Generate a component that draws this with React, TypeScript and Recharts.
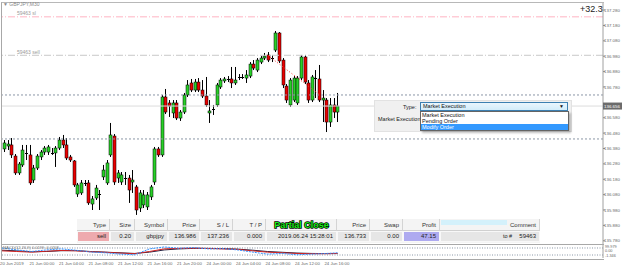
import React from 'react';
import { ComposedChart, Bar, XAxis, YAxis, ReferenceLine, Line } from 'recharts';

// ---- data (GBPJPY M30, 20 Jun 20:00 .. 24 Jun 17:30) ----
const opens = [136.377,136.396,136.403,136.331,136.221,136.273,136.351,136.338,136.175,136.253,
136.325,136.357,136.357,136.351,136.351,136.383,136.435,136.403,136.325,136.299,
136.084,136.091,136.156,136.156,136.019,136.058,136.078,136.195,136.156,136.338,
136.461,136.188,136.162,136.188,136.188,136.162,136.130,135.993,136.013,136.000,
136.065,136.162,136.377,136.338,136.715,136.676,136.611,136.676,136.578,136.617,
136.728,136.806,136.760,136.812,136.760,136.721,136.611,136.637,136.663,136.780,
136.819,136.832,136.832,136.806,136.845,136.843,136.838,136.851,136.929,136.890,
136.942,136.968,136.988,136.968,137.020,137.131,136.955,136.786,136.663,136.695,
136.676,136.838,136.975,136.806,136.695,136.838,136.832,136.695,136.695,136.552,
136.663,136.617];
const highs = [136.435,136.435,136.448,136.344,136.292,136.403,136.403,136.403,136.273,136.344,
136.370,136.396,136.403,136.383,136.396,136.455,136.468,136.448,136.338,136.305,
136.156,136.175,136.175,136.175,136.071,136.143,136.110,136.273,136.305,136.546,
136.474,136.240,136.227,136.227,136.208,136.240,136.143,136.110,136.110,136.097,
136.143,136.390,136.390,136.728,136.767,136.695,136.695,136.695,136.630,136.741,
136.825,136.832,136.832,136.838,136.825,136.845,136.695,136.663,136.806,136.838,
136.845,136.851,136.910,136.910,136.864,136.864,136.890,136.942,136.955,136.968,
136.981,137.001,137.007,136.988,137.144,137.137,136.968,136.799,136.838,136.851,
136.851,136.988,136.988,136.825,136.858,136.890,136.923,136.760,136.708,136.708,
136.708,136.741];
const lows = [136.357,136.370,136.318,136.208,136.208,136.260,136.305,136.143,136.156,136.240,
136.305,136.338,136.338,136.338,136.260,136.370,136.383,136.305,136.292,136.130,
136.065,136.078,136.136,136.013,135.980,136.045,135.980,136.175,136.143,136.325,
136.143,136.156,136.143,136.143,136.026,136.091,135.948,135.967,135.993,135.980,
136.045,136.143,136.325,136.325,136.604,136.585,136.578,136.565,136.559,136.604,
136.715,136.747,136.747,136.747,136.708,136.650,136.546,136.598,136.650,136.767,
136.806,136.812,136.773,136.793,136.825,136.832,136.806,136.838,136.890,136.877,
136.929,136.955,136.942,136.942,137.007,136.936,136.773,136.676,136.650,136.682,
136.663,136.825,136.799,136.676,136.682,136.708,136.682,136.552,136.487,136.520,
136.578,136.552];
const closes = [136.416,136.409,136.338,136.221,136.279,136.370,136.349,136.156,136.253,136.331,
136.357,136.383,136.390,136.349,136.383,136.435,136.403,136.318,136.305,136.143,
136.143,136.156,136.153,136.026,136.052,136.123,136.084,136.240,136.286,136.468,
136.162,136.221,136.208,136.186,136.110,136.175,135.980,136.091,136.078,136.078,
136.130,136.377,136.338,136.715,136.617,136.656,136.676,136.578,136.617,136.728,
136.793,136.760,136.812,136.760,136.721,136.663,136.624,136.635,136.793,136.825,
136.832,136.830,136.806,136.825,136.843,136.845,136.858,136.929,136.903,136.955,
136.968,136.981,136.955,136.962,137.131,136.949,136.793,136.695,136.825,136.838,
136.838,136.975,136.812,136.695,136.845,136.832,136.695,136.708,136.552,136.663,
136.617,136.656];

const TOTAL_SLOTS = 164; // chart shift leaves empty space on the right
const priceTicks = [137.28,137.18,137.08,136.98,136.88,136.78,136.58,136.48,136.38,136.28,136.18,136.08,135.98,135.88,135.78];
const BID = 136.656;
const SL = 137.236;
const ENTRY = 136.986;
const CLOSE_PRICE = 136.733;
const ENTRY_BAR = 72;
const CLOSE_BAR = 86;
const dottedLevels = [136.728, 136.442];

const dateTickIdx = [0,8,16,24,32,40,48,56,64,72,80,88];
const dateLabels = ['20 Jun 2019','21 Jun 00:00','21 Jun 04:00','21 Jun 08:00','21 Jun 12:00','21 Jun 16:00','21 Jun 20:00','24 Jun 00:00','24 Jun 04:00','24 Jun 08:00','24 Jun 12:00','24 Jun 16:00'];

// sub-window indicator, sampled every 4 bars
const subIdx = [0,4,8,12,16,20,24,28,32,36,40,44,48,52,56,60,64,68,72,76,80,84,88,91];
const subBlue = [77,62,50,62,70,60,46,40,30,25,70,85,75,80,70,72,62,45,30,35,25,30,35,40];
const subRed = [55,50,45,52,58,55,48,44,38,33,50,70,74,76,73,70,66,55,45,40,35,33,33,35];
const subDark = [60,55,48,50,56,57,50,45,40,35,45,62,70,74,74,72,68,60,50,44,38,35,34,34];
const subLevels = [77, 23];
const subAxisLabels = ['99.979', '0.00', '-1.346'];

// order table
const colEdges = [77,110,135,168,200,233,266,337,370,403,440,540];
const headers = ['Type','Size','Symbol','Price','S / L','T / P','','Price','Swap','Profit','Comment'];
const rowVals = ['sell','0.20','gbpjpy','136.986','137.236','0.000','2019.06.24 15:28:01','136.733','0.00','47.15','59463'];

const dropdownItems = ['Market Execution','Pending Order','Modify Order'];

const GREEN = '#28d028';
const RED = '#e80000';
const FONT = '"Liberation Sans", Arial, sans-serif';

const rows = Array.from({ length: TOTAL_SLOTS }, (_, i) =>
  i < opens.length
    ? { i, o: opens[i], h: highs[i], l: lows[i], c: closes[i], range: [lows[i], highs[i]] }
    : { i }
);

const subRows = Array.from({ length: TOTAL_SLOTS }, (_, i) => {
  const k = subIdx.indexOf(i);
  return k >= 0 ? { i, b: subBlue[k], r: subRed[k], d: subDark[k] } : { i };
});

const Candle = (props: any) => {
  const { x, y, width, height, payload } = props;
  if (!payload || payload.o == null || !isFinite(y)) return null;
  const { o, h, l, c } = payload;
  const top = Math.min(y, y + height);
  const hgt = Math.abs(height);
  const px = (v: number) => (h === l ? top : top + ((h - v) / (h - l)) * hgt);
  const cx = Math.round(x + width / 2) + 0.5;
  const yo = px(o);
  const yc = px(c);
  const bt = Math.min(yo, yc);
  const bh = Math.max(Math.abs(yo - yc), 1);
  const doji = Math.abs(yo - yc) < 1;
  return (
    <g>
      <line x1={cx} x2={cx} y1={top} y2={top + hgt} stroke="#000" strokeWidth={1} />
      {doji ? (
        <line x1={cx - 1.5} x2={cx + 1.5} y1={Math.round(bt) + 0.5} y2={Math.round(bt) + 0.5} stroke="#000" strokeWidth={1} />
      ) : (
        <rect x={cx - 1.5} y={bt} width={3} height={bh} fill={c >= o ? GREEN : RED} stroke="#000" strokeWidth={0.5} />
      )}
    </g>
  );
};

const PriceTick = (props: any) => {
  const { x, y, payload } = props;
  const v = payload.value;
  const tx = x - 3;
  if (Math.abs(v - BID) < 1e-6) {
    return (
      <g>
        <rect x={tx - 1} y={y - 3.5} width={19} height={7} fill="#6b6b6b" />
        <text x={tx} y={y + 1.6} fontSize={4.4} fill="#fff" fontFamily={FONT}>{v.toFixed(3)}</text>
      </g>
    );
  }
  return (
    <text x={tx} y={y + 1.6} fontSize={4.4} fill="#6a6a6a" fontFamily={FONT}>{v.toFixed(3)}</text>
  );
};

const DateTick = (props: any) => {
  const { x, y, payload } = props;
  const k = dateTickIdx.indexOf(payload.value);
  if (k < 0) return null;
  return (
    <text x={x - 2} y={y - 1} fontSize={4.3} fill="#666" fontFamily={FONT}>{dateLabels[k]}</text>
  );
};

const lineLabel = (text: string) => (p: any) => {
  const vb = p.viewBox || {};
  return (
    <text x={(vb.x || 0) + 15} y={(vb.y || 0) - 1.5} fontSize={5} fill="#9a9a9a" fontFamily={FONT}>{text}</text>
  );
};

export default function App() {
  const abs = (l: number, t: number, extra: any = {}) => ({ position: 'absolute' as const, left: l, top: t, ...extra });
  return (
    <div style={{ position: 'fixed', left: 0, top: 0, width: 625, height: 268, background: '#fff', overflow: 'hidden', fontFamily: FONT }}>
      {/* frames */}
      <div style={abs(1, 2, { width: 602, height: 242, borderLeft: '1px solid #a8a8a8', borderTop: '1px solid #b8b8b8' })} />
      <div style={abs(1, 244, { width: 602, height: 14, borderLeft: '1px solid #a8a8a8', borderTop: '1px solid #a8a8a8', borderBottom: '1px solid #a8a8a8' })} />

      <div style={abs(0, 0)}>
        <ComposedChart width={625} height={244} data={rows} margin={{ top: 3, right: 0, left: 2, bottom: 0 }} barCategoryGap={0}>
          <XAxis dataKey="i" type="category" hide />
          <YAxis
            orientation="right"
            type="number"
            domain={[135.759, 137.326]}
            allowDataOverflow
            ticks={[...priceTicks, BID]}
            interval={0}
            width={22}
            tick={<PriceTick />}
            tickLine={{ stroke: '#888' }}
            tickSize={2}
            axisLine={{ stroke: '#a0a0a0' }}
          />
          <ReferenceLine y={SL} stroke="#ffb4c2" strokeDasharray="7 2 1 2" label={lineLabel('59463 sl')} />
          <ReferenceLine y={ENTRY} stroke="#c8c8c8" strokeDasharray="7 2 1 2" label={lineLabel('59463 sell')} />
          {dottedLevels.map((v) => (
            <ReferenceLine key={v} y={v} stroke="#8a96a6" strokeDasharray="2 2" />
          ))}
          <ReferenceLine y={BID} stroke="#dcdcdc" />
          <ReferenceLine
            segment={[{ x: ENTRY_BAR, y: ENTRY }, { x: CLOSE_BAR, y: CLOSE_PRICE }]}
            stroke="#ff3030"
            strokeDasharray="1 2"
          />
          <Bar dataKey="range" isAnimationActive={false} shape={<Candle />} />
        </ComposedChart>
      </div>

      <div style={abs(0, 244)}>
        <ComposedChart width={625} height={24} data={subRows} margin={{ top: 1, right: 0, left: 2, bottom: 0 }}>
          <XAxis
            dataKey="i"
            type="category"
            ticks={dateTickIdx}
            interval={0}
            height={10}
            tick={<DateTick />}
            tickLine={false}
            axisLine={false}
          />
          <YAxis orientation="right" type="number" domain={[0, 100]} width={22} tick={false} tickLine={false} axisLine={{ stroke: '#a0a0a0' }} />
          {subLevels.map((v) => (
            <ReferenceLine key={v} y={v} stroke="#8a96a6" strokeDasharray="1 1.5" />
          ))}
          <Line dataKey="d" stroke="#202040" strokeWidth={1} dot={false} connectNulls isAnimationActive={false} />
          <Line dataKey="r" stroke="#d02020" strokeWidth={1} dot={false} connectNulls isAnimationActive={false} />
          <Line dataKey="b" stroke="#3090ff" strokeWidth={1} strokeDasharray="2 1" dot={false} connectNulls isAnimationActive={false} />
        </ComposedChart>
      </div>

      {/* labels */}
      <div style={abs(3, 1, { fontSize: 5, color: '#888', whiteSpace: 'nowrap' })}>▼ GBPJPY,M30</div>
      <div style={abs(580, 4, { fontSize: 9, color: '#222', whiteSpace: 'nowrap' })}>+32.3</div>
      <div style={abs(3, 245, { fontSize: 4, color: '#777', whiteSpace: 'nowrap' })}>MACD(12,26,9) 0.0199 -0.0208</div>
      <div style={abs(605, 245, { fontSize: 3.8, color: '#666', whiteSpace: 'nowrap', lineHeight: '4.3px' })}>
        {subAxisLabels.map((t) => (<div key={t}>{t}</div>))}
      </div>

      {/* dialog */}
      <div style={abs(374, 100, { width: 198, height: 32, background: '#f0f0f0', border: '1px solid #e2e2e2', boxSizing: 'border-box' })} />
      <div style={abs(403, 104, { fontSize: 5.5, color: '#222' })}>Type:</div>
      <div style={abs(378, 116, { fontSize: 5.5, color: '#222', whiteSpace: 'nowrap' })}>Market Execution</div>
      <div style={abs(420, 102, { width: 148, height: 9, boxSizing: 'border-box', border: '1px solid #3c7fb1', background: 'linear-gradient(#eaf6fd,#d2ecfa)', fontSize: 5.5, lineHeight: '7px', paddingLeft: 2, color: '#111', whiteSpace: 'nowrap' })}>
        Market Execution
        <span style={{ position: 'absolute', right: 3, top: 0, fontSize: 5 }}>▼</span>
      </div>
      <div style={abs(420, 111, { width: 149, height: 20, boxSizing: 'border-box', border: '1px solid #646464', background: '#fff', boxShadow: '2px 2px 2px rgba(0,0,0,0.25)' })}>
        {dropdownItems.map((t, k) => (
          <div key={t} style={{ height: 6, fontSize: 5.5, lineHeight: '6px', paddingLeft: 1, whiteSpace: 'nowrap', background: k === 2 ? '#3399ff' : 'transparent', color: k === 2 ? '#fff' : '#111' }}>{t}</div>
        ))}
      </div>

      {/* order table */}
      <div style={abs(77, 219, { width: 463, height: 24, background: '#f4f4f4' })} />
      {headers.map((h, k) => (
        <div key={'h' + k} style={abs(colEdges[k], 219, { width: colEdges[k + 1] - colEdges[k], height: 12, boxSizing: 'border-box', borderRight: '1px solid #d4d4d4', borderBottom: '1px solid #d0d0d0', fontSize: 6, lineHeight: '12px', textAlign: 'right', paddingRight: 3, color: '#333', whiteSpace: 'nowrap' })}>{h}</div>
      ))}
      <div style={abs(441, 220, { width: 66, height: 5, background: '#d4f1fb' })} />
      <div style={abs(266, 218, { width: 71, textAlign: 'center', fontSize: 9, fontWeight: 'bold', color: '#19f019', WebkitTextStroke: '1.4px #000', paintOrder: 'stroke fill', whiteSpace: 'nowrap', lineHeight: '14px' })}>Partial Close</div>
      {rowVals.map((v, k) => (
        <div key={'r' + k} style={abs(colEdges[k], 231, { width: colEdges[k + 1] - colEdges[k], height: 11, boxSizing: 'border-box', border: '1px solid #f8f8f8', background: k === 0 ? '#eeaaae' : k === 9 ? '#aeaaf0' : '#e6e6e6', fontSize: 6, lineHeight: '9px', textAlign: 'right', paddingRight: 3, color: '#222', whiteSpace: 'nowrap' })}>{v}</div>
      ))}
      <div style={abs(503, 232, { fontSize: 5.5, color: '#222', whiteSpace: 'nowrap', lineHeight: '9px' })}>to #</div>
    </div>
  );
}
